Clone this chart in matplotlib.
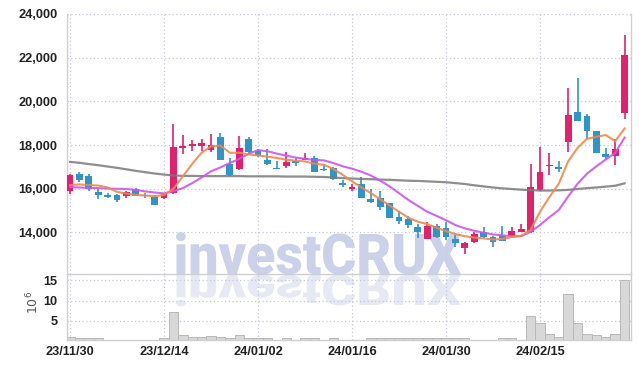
# Candlestick chart with moving averages and volume panel
import numpy as np
import matplotlib.pyplot as plt
from matplotlib.textpath import TextPath
from matplotlib.patches import PathPatch
from matplotlib.font_manager import FontProperties
from matplotlib.transforms import Affine2D
from matplotlib.ticker import FuncFormatter

# data (trading days 23/11/30 .. 24/02/29)
opens = [15880, 16690, 16600, 15860, 15700, 15720, 15680, 16000, 15720, 15620,
         15600, 15830, 17870, 17970, 17950, 17760, 18350, 17140, 16920, 18300,
         17750, 17330, 16970, 17030, 17290, 17340, 17430, 16920, 16970, 16260,
         15990, 16240, 15540, 15570, 15340, 14710, 14620, 14250, 13710, 14280,
         14200, 13680, 13310, 13570, 14000, 13790, 13830, 13830, 14030, 14000,
         15950, 17030, 17010, 18130, 19500, 19350, 18630, 17570, 17490, 19470]
highs = [16680, 16780, 16680, 16000, 15830, 15770, 15900, 16030, 15790, 15700,
         15830, 18980, 18450, 18240, 18300, 18520, 18550, 17400, 18410, 18390,
         17840, 17830, 17250, 17670, 17400, 17650, 17480, 17150, 16990, 16420,
         16230, 16520, 15990, 15910, 15360, 15000, 14770, 14390, 14460, 14390,
         14490, 13880, 13550, 14000, 14230, 13850, 14310, 14230, 14400, 17140,
         17930, 17650, 17290, 20590, 21050, 19410, 18650, 17880, 18260, 23050]
lows = [15770, 16330, 15880, 15550, 15580, 15400, 15600, 15650, 15580, 15260,
        15550, 15770, 17570, 17750, 17750, 17690, 17300, 16600, 16840, 17650,
        17450, 17070, 16900, 16970, 17050, 17320, 16760, 16800, 16400, 16060,
        15880, 15560, 15340, 15050, 14650, 14390, 14200, 13730, 13710, 13740,
        13650, 13340, 13000, 13540, 13770, 13340, 13600, 13750, 14000, 13960,
        15900, 16610, 16780, 17670, 19100, 18290, 17630, 17340, 17110, 19180]
closes = [16640, 16410, 16000, 15700, 15620, 15470, 15850, 15680, 15650, 15280,
          15760, 17900, 17950, 18030, 18080, 17990, 17340, 16610, 17880, 17690,
          17490, 17150, 16910, 17230, 17170, 17400, 16780, 16860, 16450, 16180,
          16090, 15590, 15400, 15170, 14680, 14530, 14340, 14000, 14280, 13790,
          13800, 13500, 13500, 13950, 13800, 13570, 13620, 14060, 14160, 16080,
          16770, 17100, 16890, 19390, 19100, 18640, 17630, 17440, 17800, 22130]

ma5 = [16170, 16200, 16170, 16150, 16060, 15860, 15780, 15720, 15690, 15660,
       15720, 16000, 16570, 17140, 17650, 17940, 17980, 17650, 17650, 17570,
       17530, 17470, 17410, 17330, 17290, 17250, 17150, 17100, 16910, 16640,
       16340, 16060, 15800, 15520, 15230, 14950, 14680, 14490, 14390, 14220,
       14060, 13930, 13830, 13770, 13730, 13680, 13700, 13790, 13850, 14110,
       14950, 15620, 16230, 17260, 17870, 18290, 18380, 18460, 18180, 18760]
ma10 = [16080, 16060, 16040, 16030, 16010, 16000, 15990, 15950, 15880, 15830,
        15790, 15890, 16030, 16260, 16520, 16800, 16980, 17180, 17370, 17600,
        17770, 17720, 17610, 17520, 17430, 17370, 17320, 17300, 17180, 17030,
        16920, 16780, 16610, 16370, 16110, 15800, 15490, 15220, 14950, 14760,
        14560, 14340, 14190, 14080, 13990, 13910, 13870, 13830, 13830, 14030,
        14340, 14700, 15030, 15650, 16230, 16690, 17030, 17340, 17640, 18340]
ma_long = [17230, 17190, 17130, 17080, 17020, 16960, 16890, 16820, 16760, 16700,
           16650, 16610, 16590, 16590, 16580, 16580, 16580, 16580, 16580, 16570,
           16570, 16570, 16570, 16560, 16560, 16560, 16550, 16540, 16520, 16490,
           16470, 16450, 16440, 16420, 16410, 16390, 16370, 16360, 16340, 16320,
           16300, 16260, 16220, 16160, 16110, 16060, 16020, 15990, 15960, 15940,
           15920, 15920, 15930, 15950, 15990, 16030, 16060, 16100, 16140, 16250]

volume = [0.9, 0.7, 0.7, 0.7, 0.3, 0.3, 0.3, 0.3, 0.3, 0.3,
          0.8, 7.2, 1.5, 1.1, 1.1, 1.35, 1.1, 0.85, 1.6, 0.85,
          0.8, 0.7, 0.3, 0.8, 0.3, 0.8, 0.8, 0.3, 0.8, 0.3,
          0.3, 0.3, 0.8, 0.8, 0.8, 0.8, 0.8, 0.8, 0.8, 0.8,
          0.8, 0.8, 0.8, 0.3, 0.3, 0.3, 0.8, 0.8, 0.3, 6.3,
          4.6, 1.8, 1.1, 11.7, 4.5, 1.8, 1.5, 1.0, 1.8, 15.0]

tick_pos = [0, 10, 20, 30, 40, 50]
tick_labels = ['23/11/30', '23/12/14', '24/01/02', '24/01/16', '24/01/30', '24/02/15']

UP = '#e2206c'
DOWN = '#2f95c8'
GRID = '#c6c9de'
SPINE = '#cfcfcf'
TICKFONT = dict(family=['Liberation Sans', 'DejaVu Sans'], weight='bold', size=9.2)

o = np.array(opens); c = np.array(closes)
h = np.array(highs); l = np.array(lows)
x = np.arange(len(o))
cols = [UP if cc >= oo else DOWN for oo, cc in zip(o, c)]

fig = plt.figure(figsize=(6.39, 3.68), dpi=100)
ax = fig.add_axes([0.1049, 0.2554, 0.8818, 0.7066])
axv = fig.add_axes([0.1049, 0.0774, 0.8818, 0.178], sharex=ax)

# watermark + reflection behind everything
fp = FontProperties(family=['Roboto', 'DejaVu Sans'], weight=900)
tp = TextPath((0, 0), 'investCRUX', size=1, prop=fp)
bb = tp.get_extents()
cap = TextPath((0, 0), 'X', size=1, prop=fp).get_extents().height
sx = 285 / bb.width
sy = 40 / cap
base_y = 368 - 274
tr = Affine2D().translate(-bb.x0, 0).scale(sx, sy).translate(176, base_y)
fig.add_artist(PathPatch(tp, transform=tr, fc='#cbd1e8', ec='none', zorder=-2))
tr2 = Affine2D().translate(-bb.x0, 0).scale(sx, -sy * 0.75).translate(176, base_y - 1)
fig.add_artist(PathPatch(tp, transform=tr2, fc='#e6e9f3', ec='none', zorder=-2))

for a in (ax, axv):
    a.set_facecolor('none')

# candles
ax.vlines(x, l, h, colors=cols, lw=1.2, zorder=2)
body = np.maximum(np.abs(c - o), 60)
ax.bar(x, body, bottom=np.minimum(o, c), width=0.72, color=cols, zorder=3)

# moving averages
ax.plot(x, ma_long, color='#7a7a7a', lw=1.6, alpha=0.85, zorder=4)
ax.plot(x, ma10, color='#cc55ee', lw=1.5, alpha=0.9, zorder=4)
ax.plot(x, ma5, color='#f0884e', lw=1.5, alpha=0.9, zorder=4)

ax.set_ylim(12100, 24000)
ax.set_yticks(range(14000, 24001, 2000))
ax.yaxis.set_major_formatter(FuncFormatter(lambda v, p: f'{int(v):,}'))
ax.set_xlim(-0.32, 59.63)
ax.set_xticks(tick_pos)
ax.tick_params(axis='x', labelbottom=False, length=0)
ax.tick_params(axis='y', length=0, pad=7, labelcolor='#222222')
for lab in ax.get_yticklabels():
    lab.set(**TICKFONT)
ax.grid(True, ls=(0, (1, 2)), color=GRID, lw=0.9)
ax.spines['top'].set_visible(False)
for s in ('left', 'right', 'bottom'):
    ax.spines[s].set_color(SPINE)
    ax.spines[s].set_linewidth(1.0)

# volume
axv.bar(x, volume, width=1.0, color='#d8d8d8', edgecolor='#b9b9b9', lw=0.7, zorder=2)
axv.set_ylim(0.4, 16.6)
axv.set_yticks([5, 10, 15])
axv.set_xticks(tick_pos)
axv.set_xticklabels(tick_labels)
axv.tick_params(axis='both', length=0, labelcolor='#222222')
axv.tick_params(axis='y', pad=7)
axv.tick_params(axis='x', pad=5)
for lab in axv.get_yticklabels() + axv.get_xticklabels():
    lab.set(**TICKFONT)
axv.grid(True, ls=(0, (1, 2)), color=GRID, lw=0.9)
axv.spines['top'].set_visible(False)
for s in ('left', 'right', 'bottom'):
    axv.spines[s].set_color(SPINE)
    axv.spines[s].set_linewidth(1.0)

fig.text(0.052, 0.177, r'$10^6$', rotation=90, ha='center', va='center',
         fontsize=9, color='#555555')

fig.savefig('out.png', dpi=100)
